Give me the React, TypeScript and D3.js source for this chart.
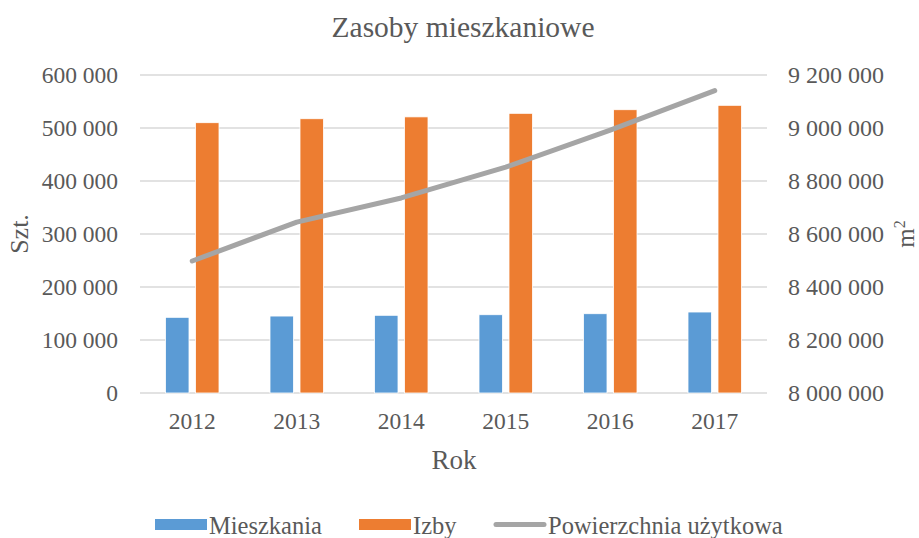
import React from "react";
import * as d3 from "d3";

const years = ["2012", "2013", "2014", "2015", "2016", "2017"];
const mieszkania = [142800, 145200, 146600, 147700, 149600, 152800];
const izby = [510000, 517500, 521000, 527700, 534500, 542800];
const powierzchnia = [8498000, 8645000, 8736000, 8852000, 8992000, 9141000];
const leftTicks = [0, 100000, 200000, 300000, 400000, 500000, 600000];
const rightTicks = [8000000, 8200000, 8400000, 8600000, 8800000, 9000000, 9200000];

const W = 919, H = 538;
const L = 140, R = 767, T = 75, B = 393;
const FONT = "Liberation Serif, Times New Roman, Times, Tinos, DejaVu Serif, serif";
const TXT = "#595959";

const fmt = (v: number) => d3.format(",")(v).replace(/,/g, " ");

export default function App() {
  const x = d3.scaleBand().domain(years).range([L, R]).paddingInner(0).paddingOuter(0);
  const yL = d3.scaleLinear().domain([0, 600000]).range([B, T]);
  const yR = d3.scaleLinear().domain([8000000, 9200000]).range([B, T]);
  const bw = 23.5, gap = 6.5;
  const line = d3.line<number>()
    .x((_, i) => (x(years[i]) as number) + x.bandwidth() / 2)
    .y((d) => yR(d));

  return (
    <svg width={W} height={H} style={{ position: "absolute", left: 0, top: 0, background: "#fff", fontFamily: FONT }}>
      <rect width={W} height={H} fill="#fff" />
      <text x={463} y={37} textAnchor="middle" style={{ fontFamily: FONT }} fontSize={29.5} fill={TXT}>Zasoby mieszkaniowe</text>
      {leftTicks.map((t) => (
        <line key={"g" + t} x1={L} x2={R} y1={yL(t)} y2={yL(t)} stroke="#d9d9d9" strokeWidth={1.5} />
      ))}
      {leftTicks.map((t) => (
        <text key={"l" + t} x={118} y={yL(t)} dy="0.35em" textAnchor="end" style={{ fontFamily: FONT }} fontSize={23.5} fill={TXT}>{fmt(t)}</text>
      ))}
      {rightTicks.map((t) => (
        <text key={"r" + t} x={788} y={yR(t)} dy="0.35em" textAnchor="start" style={{ fontFamily: FONT }} fontSize={24} fill={TXT}>{fmt(t)}</text>
      ))}
      {years.map((yr, i) => {
        const c = (x(yr) as number) + x.bandwidth() / 2;
        return (
          <g key={yr}>
            <rect x={c - gap / 2 - bw} y={yL(mieszkania[i])} width={bw} height={B - yL(mieszkania[i])} fill="#5b9bd5" stroke="#ffffff" strokeWidth={0.8} />
            <rect x={c + gap / 2} y={yL(izby[i])} width={bw} height={B - yL(izby[i])} fill="#ed7d31" stroke="#ffffff" strokeWidth={0.8} />
            <text x={c} y={429} textAnchor="middle" style={{ fontFamily: FONT }} fontSize={23.5} fill={TXT}>{yr}</text>
          </g>
        );
      })}
      <path d={line(powierzchnia) || ""} fill="none" stroke="#a5a5a5" strokeWidth={5} strokeLinecap="round" strokeLinejoin="round" />
      <text x={454} y={469} textAnchor="middle" style={{ fontFamily: FONT }} fontSize={27} fill={TXT}>Rok</text>
      <text transform="translate(28,234) rotate(-90)" textAnchor="middle" style={{ fontFamily: FONT }} fontSize={26} fill={TXT}>Szt.</text>
      <text transform="translate(914,234) rotate(-90)" textAnchor="middle" style={{ fontFamily: FONT }} fontSize={25} fill={TXT}>m<tspan dy="-9" fontSize={16}>2</tspan></text>
      <g style={{ fontFamily: FONT }} fontSize={24.5} fill={TXT}>
        <rect x={155} y={519} width={52} height={11} fill="#5b9bd5" />
        <text x={209} y={534}>Mieszkania</text>
        <rect x={359} y={519} width={52} height={11} fill="#ed7d31" />
        <text x={413} y={534}>Izby</text>
        <line x1={496} x2={544} y1={524.5} y2={524.5} stroke="#a5a5a5" strokeWidth={5} strokeLinecap="round" />
        <text x={548} y={534}>Powierzchnia użytkowa</text>
      </g>
    </svg>
  );
}
